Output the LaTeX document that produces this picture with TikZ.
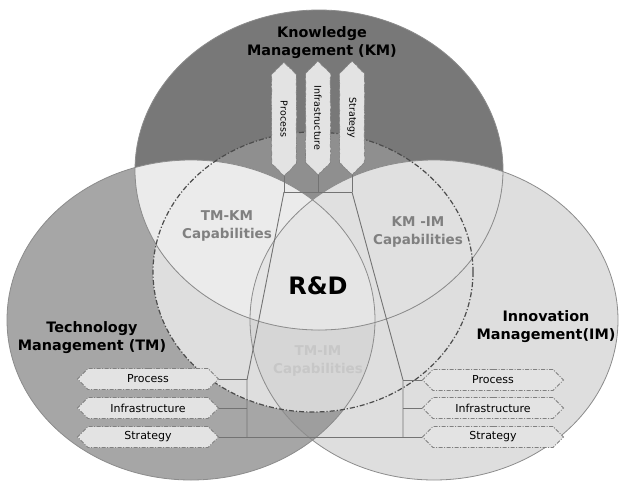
\documentclass[tikz,border=0pt]{standalone}
\usepackage{fontspec}
\setmainfont{DejaVu Sans}
\usetikzlibrary{shapes.symbols, decorations.pathmorphing}

\definecolor{kmfill}{gray}{0.47}
\definecolor{kmin}{gray}{0.56}
\definecolor{tmfill}{gray}{0.65}
\definecolor{imfill}{gray}{0.87}
\definecolor{lensfill}{gray}{0.62}
\definecolor{rdfill}{gray}{0.87}
\definecolor{tmimin}{gray}{0.84}
\definecolor{tmkmfill}{gray}{0.92}
\definecolor{kmimfill}{gray}{0.88}
\definecolor{centrefill}{gray}{0.90}
\definecolor{rimgray}{gray}{0.55}
\definecolor{rdgray}{gray}{0.30}
\definecolor{boxfill}{gray}{0.89}
\definecolor{dashgray}{gray}{0.50}
\definecolor{linkgray}{gray}{0.45}
\definecolor{capgray}{gray}{0.50}
\definecolor{faintgray}{gray}{0.78}

\begin{document}
\begin{tikzpicture}[x=1pt, y=-1pt,
        kmarea/.style={insert path={(319,170) ellipse [x radius=184, y radius=160]}},
        tmarea/.style={insert path={(191,320) ellipse [x radius=184, y radius=160]}},
        imarea/.style={insert path={(434,320) ellipse [x radius=184, y radius=160]}},
        rdarea/.style={insert path={(313,272) ellipse [x radius=160, y radius=140]}},
        rim/.style={draw=rimgray, line width=0.8pt},
        rdline/.style={draw=rdgray, line width=1.2pt, dash pattern=on 5pt off 2pt on 1.2pt off 2pt},
        hexbox/.style={signal, signal to=east and west, draw=dashgray, fill=boxfill, line width=0.9pt,
                    dash pattern=on 4pt off 1.5pt on 1pt off 1.5pt, minimum width=141, minimum height=21,
                    inner sep=1pt, font=\fontsize{11}{12}\selectfont},
        vbox/.style={signal, signal to=east and west, rotate=-90, draw=dashgray, fill=boxfill, line width=0.6pt,
                    decorate, decoration={random steps, segment length=1.5pt, amplitude=0.4pt},
                    minimum width=114, minimum height=25, inner sep=1pt, font=\fontsize{9.5}{10}\selectfont},
        head/.style={align=center, font=\fontsize{14.4}{18}\selectfont\bfseries},
        caplbl/.style={align=center, text=capgray, font=\fontsize{13.5}{18}\selectfont\bfseries},
        link/.style={draw=linkgray, line width=0.9pt}
    ]
    \useasboundingbox (0,0) rectangle (622,483);

    % circles and overlaps
    \path[fill=tmfill, tmarea];
    \path[fill=imfill, imarea];
    \begin{scope} \clip[tmarea]; \path[fill=lensfill, imarea]; \end{scope}
    \path[fill=rdfill, rdarea];
    \begin{scope} \clip[tmarea]; \clip[imarea]; \path[fill=tmimin, rdarea]; \end{scope}
    \path[fill=kmfill, kmarea];
    \begin{scope} \clip[kmarea]; \path[fill=kmin, rdarea]; \end{scope}
    \begin{scope} \clip[kmarea]; \path[fill=tmkmfill, tmarea]; \end{scope}
    \begin{scope} \clip[kmarea]; \path[fill=kmimfill, imarea]; \end{scope}
    \begin{scope} \clip[kmarea]; \clip[tmarea]; \path[fill=centrefill, imarea]; \end{scope}
    \path[rim, tmarea];
    \path[rim, imarea];
    \path[rim, kmarea];
    \path[rdline, rdarea];

    % labels
    \node[head] (kmlbl) at (322,43) {Knowledge\\Management (KM)};
    \node[head] (tmlbl) at (92,338) {Technology\\Management (TM)};
    \node[head] (imlbl) at (546,327) {Innovation\\Management(IM)};
    \node[font=\fontsize{24}{28}\selectfont\bfseries] (rd) at (318,286) {R\&D};
    \node[caplbl] (tmkm) at (227,226) {TM-KM\\Capabilities};
    \node[caplbl] (kmim) at (418,232) {KM -IM\\Capabilities};
    \node[caplbl, text=faintgray] (tmim) at (318,361) {TM-IM\\Capabilities};

    % boxes
    \node[vbox] (kmP) at (284,119) {Process};
    \node[vbox] (kmI) at (318,118) {Infrastructure};
    \node[vbox] (kmS) at (352,118) {Strategy};
    \node[hexbox] (tmP) at (148,379) {Process};
    \node[hexbox] (tmI) at (148,408) {Infrastructure};
    \node[hexbox] (tmS) at (148,437) {Strategy};
    \node[hexbox] (imP) at (493,380) {Process};
    \node[hexbox] (imI) at (493,408) {Infrastructure};
    \node[hexbox] (imS) at (493,437) {Strategy};

    % connectors
    \coordinate (kmbar) at (318,192);
    \coordinate (tmjoin) at (247,380);
    \coordinate (imjoin) at (403,380);
    \draw[link] (kmP.east) -- (kmP.east |- kmbar);
    \draw[link] (kmI.east) -- (kmI.east |- kmbar);
    \draw[link] (kmS.east) -- (kmS.east |- kmbar);
    \draw[link] (kmP.east |- kmbar) -- (kmS.east |- kmbar);
    \draw[link] (kmP.east |- kmbar) -- (tmjoin) -- (tmjoin |- tmS.east);
    \draw[link] (kmS.east |- kmbar) -- (imjoin) -- (imjoin |- imS.west);
    \draw[link] (tmP.east) -- (tmP.east -| tmjoin);
    \draw[link] (tmI.east) -- (tmI.east -| tmjoin);
    \draw[link] (tmS.east) -- (imS.west);
    \draw[link] (imP.west) -- (imP.west -| imjoin);
    \draw[link] (imI.west) -- (imI.west -| imjoin);
\end{tikzpicture}
\end{document}
